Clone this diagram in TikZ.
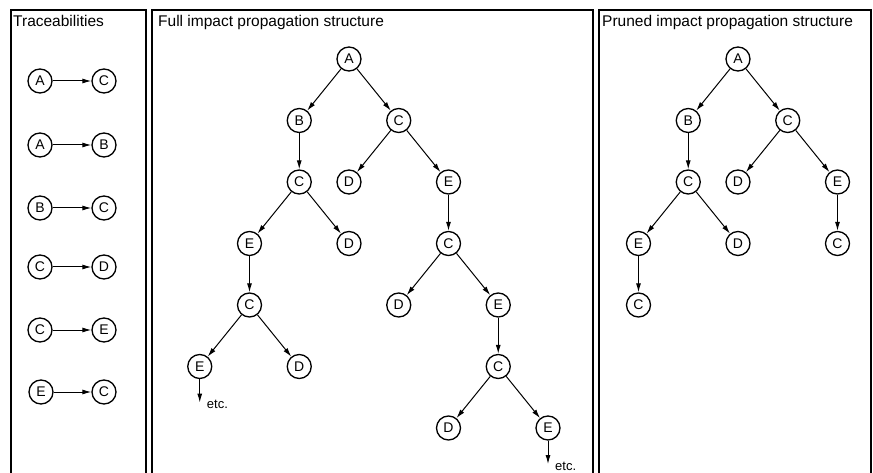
\documentclass[tikz,border=0pt]{standalone}
\usepackage{fontspec}
\setmainfont{Liberation Sans}
\usetikzlibrary{arrows.meta}
\tikzset{
  state/.style={circle, draw, line width=1.3pt, minimum size=24pt, inner sep=0pt, font=\fontsize{14}{16}\selectfont},
  link/.style={draw, line width=1pt, -{Latex[length=9pt,width=5pt]}},
  frame/.style={line width=1.5pt},
  title/.style={anchor=base west, inner sep=0pt, font=\fontsize{15.5}{18}\selectfont},
  etcnote/.style={anchor=base west, inner sep=0pt, font=\fontsize{13}{15}\selectfont}
}
\begin{document}
\begin{tikzpicture}[x=1pt, y=-1pt, level distance=61.5pt, sibling distance=99.5pt,
    every child node/.style={state}, edge from parent/.style={link}]
  \useasboundingbox (0,0) rectangle (873,473);

  % the three panels, open at the bottom
  \draw[frame] (11,473) |- (146,10) -- (146,473);
  \draw[frame] (152,473) |- (593,10) -- (593,473);
  \draw[frame] (599,473) |- (871,10) -- (871,473);
  \node[title] (trace) at (13,27) {Traceabilities};
  \node[title] (full) at (158,27) {Full impact propagation structure};
  \node[title] (pruned) at (602,27) {Pruned impact propagation structure};

  % traceabilities
  \node[state] (ta) at (40,81) {A};  \node[state] (tc) at (104,81) {C};
  \node[state] (ta2) at (40,145) {A}; \node[state] (tb) at (104,145) {B};
  \node[state] (tb2) at (40,208) {B}; \node[state] (tc2) at (104,208) {C};
  \node[state] (tc3) at (40,267) {C}; \node[state] (td) at (104,267) {D};
  \node[state] (tc4) at (40,330) {C}; \node[state] (te) at (104,330) {E};
  \node[state] (te2) at (41,392) {E}; \node[state] (tc5) at (104,392) {C};
  \draw[link] (ta) -- (tc);
  \draw[link] (ta2) -- (tb);
  \draw[link] (tb2) -- (tc2);
  \draw[link] (tc3) -- (td);
  \draw[link] (tc4) -- (te);
  \draw[link] (te2) -- (tc5);

  % full structure
  \node[state] (fa) at (349,59) {A}
    child {node (fb) {B}
      child {node (fbc) {C}
        child {node (fbce) {E}
          child {node (fbcec) {C}
            child {node (fbcece) {E}
              child[level distance=36pt] {coordinate (fetc1)}
            }
            child {node (fbcecd) {D}}
          }
        }
        child {node (fbcd) {D}}
      }
    }
    child {node (fc) {C}
      child {node (fcd) {D}}
      child {node (fce) {E}
        child {node (fcec) {C}
          child {node (fcecd) {D}}
          child {node (fcece) {E}
            child {node (fcecec) {C}
              child {node (fcececd) {D}}
              child {node (fcecece) {E}
                child[level distance=36pt] {coordinate (fetc2)}
              }
            }
          }
        }
      }
    };
  \node[etcnote] (etc1) at ([xshift=7pt, yshift=-6pt]fetc1) {etc.};
  \node[etcnote] (etc2) at ([xshift=7pt, yshift=-6pt]fetc2) {etc.};

  % pruned structure
  \node[state] (pa) at (738,59) {A}
    child {node (pb) {B}
      child {node (pbc) {C}
        child {node (pbce) {E}
          child {node (pbcec) {C}}
        }
        child {node (pbcd) {D}}
      }
    }
    child {node (pc) {C}
      child {node (pcd) {D}}
      child {node (pce) {E}
        child {node (pcec) {C}}
      }
    };
\end{tikzpicture}
\end{document}
